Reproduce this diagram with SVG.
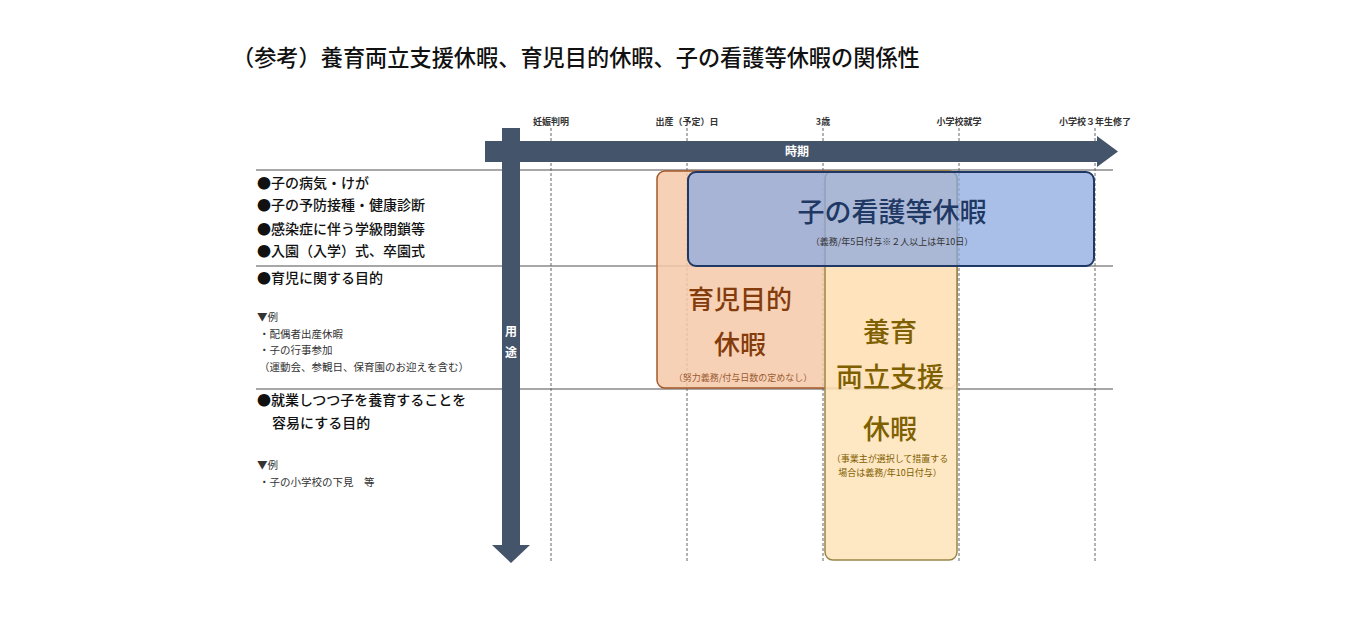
<svg xmlns="http://www.w3.org/2000/svg" width="1360" height="626" viewBox="0 0 1360 626">
<style>
text{font-family:"Noto Sans CJK JP","Noto Sans CJK SC",sans-serif}
.title{font-size:22.2px;font-weight:500;fill:#111}
.tl{font-size:9px;font-weight:700;fill:#333;text-anchor:middle}
.lab{font-size:14px;font-weight:500;fill:#111}
.sm{font-size:10.5px;fill:#333}
.grid{stroke:#8a8a8a;stroke-width:1.3;fill:none}
.dash{stroke:#666;stroke-width:1;stroke-dasharray:3 2;fill:none}
.arrow{fill:#44546a}
.wt{fill:#fff;font-weight:700;text-anchor:middle}
.big{text-anchor:middle;font-weight:500}
.sub{text-anchor:middle;font-size:9px}
</style>
<rect width="1360" height="626" fill="#fff"/>
<text class="title" x="232" y="66">（参考）養育両立支援休暇、育児目的休暇、子の看護等休暇の関係性</text>

<g id="grid">
<line class="grid" x1="256" y1="170" x2="1113" y2="170"/>
<line class="grid" x1="256" y1="266" x2="1113" y2="266"/>
<line class="grid" x1="256" y1="389" x2="1113" y2="389"/>
<line class="dash" x1="551" y1="128" x2="551" y2="563"/>
<line class="dash" x1="687" y1="128" x2="687" y2="563"/>
<line class="dash" x1="823" y1="128" x2="823" y2="563"/>
<line class="dash" x1="959" y1="128" x2="959" y2="563"/>
<line class="dash" x1="1095" y1="128" x2="1095" y2="563"/>
</g>

<g id="timeline-labels">
<text class="tl" x="551" y="125">妊娠判明</text>
<text class="tl" x="687" y="125">出産（予定）日</text>
<text class="tl" x="823" y="125">3歳</text>
<text class="tl" x="959" y="125">小学校就学</text>
<text class="tl" x="1095" y="125">小学校３年生修了</text>
</g>

<g id="axis-time">
<polygon class="arrow" points="485,141 1097,141 1097,136 1118,151.5 1097,167 1097,162 485,162"/>
<text class="wt" x="797" y="156" font-size="12">時期</text>
</g>

<g id="axis-use">
<polygon class="arrow" points="502,128 520,128 520,545 530,545 511,563 492,545 502,545"/>
<text class="wt" x="511" y="336" font-size="12">用</text>
<text class="wt" x="511" y="357" font-size="12">途</text>
</g>

<g id="purposes">
<text class="lab" x="257" y="188">●子の病気・けが</text>
<text class="lab" x="257" y="210">●子の予防接種・健康診断</text>
<text class="lab" x="257" y="234">●感染症に伴う学級閉鎖等</text>
<text class="lab" x="257" y="256">●入園（入学）式、卒園式</text>
<text class="lab" x="257" y="283">●育児に関する目的</text>
<text class="sm" x="257" y="321">▼例</text>
<text class="sm" x="259" y="338">・配偶者出産休暇</text>
<text class="sm" x="259" y="354">・子の行事参加</text>
<text class="sm" x="259" y="371">（運動会、参観日、保育園のお迎えを含む）</text>
<text class="lab" x="257" y="405">●就業しつつ子を養育することを</text>
<text class="lab" x="272" y="428">容易にする目的</text>
<text class="sm" x="257" y="469">▼例</text>
<text class="sm" x="259" y="486">・子の小学校の下見　等</text>
</g>

<g id="ikuji">
<rect x="657" y="171" width="300" height="217" rx="8" fill="#f6c9a9" fill-opacity="0.85" stroke="#a5582a" stroke-width="1.5"/>
<text class="big" x="740" y="309" font-size="26" fill="#843c0c">育児目的</text>
<text class="big" x="740" y="354" font-size="26" fill="#843c0c">休暇</text>
<text class="sub" x="743" y="381" fill="#9a5a30">（努力義務/付与日数の定めなし）</text>
</g>

<g id="youiku">
<rect x="825" y="171" width="132" height="389" rx="8" fill="#fee4bd" fill-opacity="0.9" stroke="#9a8648" stroke-width="1.5"/>
<text class="big" x="890" y="342" font-size="27" fill="#7f6000">養育</text>
<text class="big" x="890" y="387" font-size="27" fill="#7f6000">両立支援</text>
<text class="big" x="890" y="439" font-size="27" fill="#7f6000">休暇</text>
<text class="sub" x="890" y="462" fill="#7f6000">（事業主が選択して措置する</text>
<text class="sub" x="890" y="476" fill="#7f6000">場合は義務/年10日付与）</text>
</g>

<g id="kango">
<rect x="688" y="172" width="406" height="94" rx="8" fill="#8eaadf" fill-opacity="0.75" stroke="#1f3864" stroke-width="2"/>
<text class="big" x="892" y="222" font-size="27" fill="#1f3864">子の看護等休暇</text>
<text class="sub" x="892" y="245" fill="#333">（義務/年5日付与※２人以上は年10日）</text>
</g>
</svg>
